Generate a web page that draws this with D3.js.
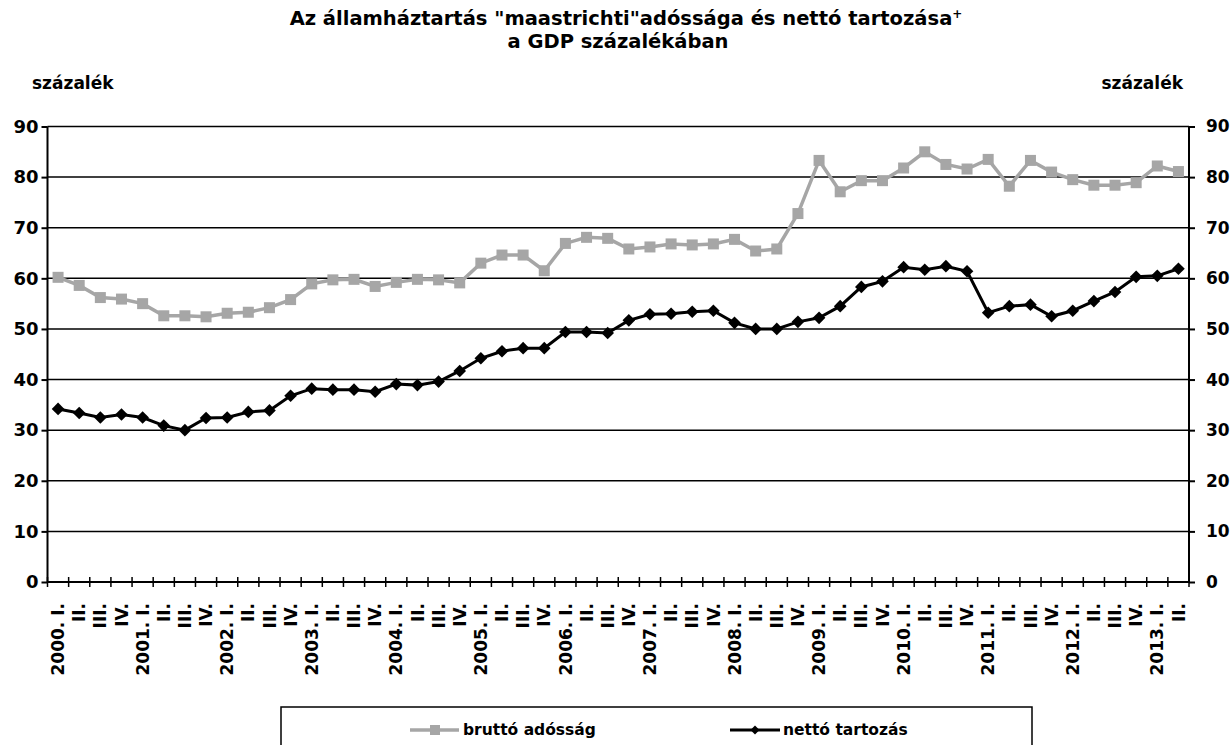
<!DOCTYPE html>
<html>
<head>
<meta charset="utf-8">
<script src="https://cdn.jsdelivr.net/npm/d3@7"></script>
<style>
  body { margin: 0; background: #fff; }
  svg { display: block; }
  .bold { font-family: "DejaVu Sans", Verdana, sans-serif; font-weight: bold; }
</style>
</head>
<body>
<div id="chart"></div>
<script>
const years = d3.range(2000, 2014)
const quarters = ["I.", "II.", "III.", "IV."]

const brutto = [60.2, 58.6, 56.2, 55.9, 55.0, 52.6, 52.6, 52.4, 53.1, 53.3, 54.2, 55.8,
  58.9, 59.7, 59.8, 58.4, 59.2, 59.8, 59.7, 59.1, 63.0, 64.6, 64.6, 61.5,
  66.9, 68.1, 67.9, 65.8, 66.2, 66.8, 66.6, 66.8, 67.7, 65.4, 65.8, 72.8,
  83.3, 77.1, 79.3, 79.3, 81.8, 85.0, 82.5, 81.6, 83.5, 78.2, 83.3, 81.0,
  79.5, 78.4, 78.4, 78.9, 82.2, 81.1]

const netto = [34.2, 33.4, 32.5, 33.1, 32.5, 30.9, 30.0, 32.4, 32.5, 33.6, 33.9, 36.8,
  38.2, 38.0, 38.0, 37.6, 39.1, 38.9, 39.6, 41.7, 44.2, 45.6, 46.2, 46.2,
  49.4, 49.4, 49.2, 51.7, 52.9, 53.0, 53.4, 53.6, 51.2, 50.0, 50.0, 51.4,
  52.2, 54.5, 58.3, 59.4, 62.2, 61.7, 62.4, 61.4, 53.2, 54.5, 54.8, 52.5,
  53.6, 55.5, 57.3, 60.3, 60.5, 61.9]

const yTicks = d3.range(0, 91, 10)

// category labels: "2000. I.", "II.", ...
const labels = []
years.forEach(y => quarters.forEach((q, i) => {
  if (labels.length < brutto.length) labels.push(i === 0 ? `${y}. ${q}` : q)
}))
const keys = labels.map((d, i) => i)

const width = 1232
const height = 745
const plotLeft = 47.5
const plotRight = 1189
const plotTop = 126.5
const plotBottom = 582

const svg = d3.select("#chart")
              .append("svg")
              .attr("width", width)
              .attr("height", height)

const x = d3.scaleBand()
            .domain(keys)
            .range([plotLeft, plotRight])
const xc = i => x(i) + x.bandwidth() / 2

const y = d3.scaleLinear()
            .domain([0, 90])
            .range([plotBottom, plotTop])

// title
const title = svg.append("text")
                 .attr("class", "bold")
                 .attr("text-anchor", "middle")
                 .attr("font-size", 19.5)
title.append("tspan").attr("x", 626).attr("y", 25)
     .text("Az államháztartás \"maastrichti\"adóssága és nettó tartozása")
title.append("tspan").attr("font-size", 12).attr("dy", -7).text("+")
svg.append("text")
   .attr("class", "bold")
   .attr("text-anchor", "middle")
   .attr("font-size", 19.5)
   .attr("x", 618).attr("y", 48)
   .text("a GDP százalékában")

svg.append("text").attr("class", "bold").attr("font-size", 17)
   .attr("x", 32).attr("y", 89).text("százalék")
svg.append("text").attr("class", "bold").attr("font-size", 17)
   .attr("x", 1183).attr("y", 89).attr("text-anchor", "end").text("százalék")

// gridlines
svg.append("g")
   .selectAll("line")
   .data(yTicks.filter(d => d > 0))
   .enter()
   .append("line")
   .attr("x1", plotLeft).attr("x2", plotRight)
   .attr("y1", d => y(d)).attr("y2", d => y(d))
   .attr("stroke", "#000")
   .attr("stroke-width", 1.5)

// y axes
const leftAxis = d3.axisLeft(y).tickValues(yTicks).tickSize(6).tickPadding(3)
const rightAxis = d3.axisRight(y).tickValues(yTicks).tickSize(6).tickPadding(11)

const gl = svg.append("g").attr("transform", `translate(${plotLeft},0)`).call(leftAxis)
gl.selectAll("text").attr("class", "bold").attr("font-size", 18).attr("fill", "#000")
const gr = svg.append("g").attr("transform", `translate(${plotRight},0)`).call(rightAxis)
gr.selectAll("text").attr("class", "bold").attr("font-size", 17).attr("fill", "#000")
svg.selectAll(".domain, .tick line").attr("stroke", "#000").attr("stroke-width", 2)
svg.selectAll(".domain").attr("d", `M0,${plotTop}V${plotBottom}`)

// x axis
svg.append("line")
   .attr("x1", plotLeft).attr("x2", plotRight)
   .attr("y1", plotBottom).attr("y2", plotBottom)
   .attr("stroke", "#000").attr("stroke-width", 2)

svg.append("g")
   .selectAll("line")
   .data(d3.range(keys.length + 1))
   .enter()
   .append("line")
   .attr("x1", i => plotLeft + i * x.step()).attr("x2", i => plotLeft + i * x.step())
   .attr("y1", plotBottom - 5).attr("y2", plotBottom + 5)
   .attr("stroke", "#000").attr("stroke-width", 1.5)

svg.append("g")
   .selectAll("text")
   .data(keys)
   .enter()
   .append("text")
   .attr("class", "bold")
   .attr("font-size", 17)
   .attr("text-anchor", "end")
   .attr("dy", "0.36em")
   .attr("transform", i => `translate(${xc(i)},${plotBottom + 21}) rotate(-90)`)
   .text(i => labels[i])

// series
const line = vals => d3.line().x((d, i) => xc(i)).y(d => y(d))(vals)

svg.append("path")
   .attr("d", line(brutto))
   .attr("fill", "none")
   .attr("stroke", "#a6a6a6")
   .attr("stroke-width", 3.5)

svg.append("g")
   .selectAll("rect")
   .data(brutto)
   .enter()
   .append("rect")
   .attr("x", (d, i) => xc(i) - 5.5)
   .attr("y", d => y(d) - 5.5)
   .attr("width", 11).attr("height", 11)
   .attr("fill", "#a6a6a6")

svg.append("path")
   .attr("d", line(netto))
   .attr("fill", "none")
   .attr("stroke", "#000")
   .attr("stroke-width", 3)

const diamond = d3.symbol().type(d3.symbolSquare).size(80)
svg.append("g")
   .selectAll("path")
   .data(netto)
   .enter()
   .append("path")
   .attr("d", diamond)
   .attr("transform", (d, i) => `translate(${xc(i)},${y(d)}) rotate(45)`)
   .attr("fill", "#000")

// legend
svg.append("rect")
   .attr("x", 281).attr("y", 707)
   .attr("width", 751).attr("height", 60)
   .attr("fill", "none")
   .attr("stroke", "#000")
   .attr("stroke-width", 1.5)

const legendY = 730
svg.append("line").attr("x1", 410).attr("x2", 459).attr("y1", legendY).attr("y2", legendY)
   .attr("stroke", "#a6a6a6").attr("stroke-width", 3.5)
svg.append("rect").attr("x", 430).attr("y", legendY - 5).attr("width", 10).attr("height", 10)
   .attr("fill", "#a6a6a6")
svg.append("text").attr("class", "bold").attr("font-size", 15.5)
   .attr("x", 463).attr("y", legendY).attr("dy", "0.35em").text("bruttó adósság")

svg.append("line").attr("x1", 730).attr("x2", 780).attr("y1", legendY).attr("y2", legendY)
   .attr("stroke", "#000").attr("stroke-width", 3)
svg.append("path").attr("d", d3.symbol().type(d3.symbolSquare).size(40))
   .attr("transform", `translate(755,${legendY}) rotate(45)`)
   .attr("fill", "#000")
svg.append("text").attr("class", "bold").attr("font-size", 15.5)
   .attr("x", 783).attr("y", legendY).attr("dy", "0.35em").text("nettó tartozás")
</script>
</body>
</html>
